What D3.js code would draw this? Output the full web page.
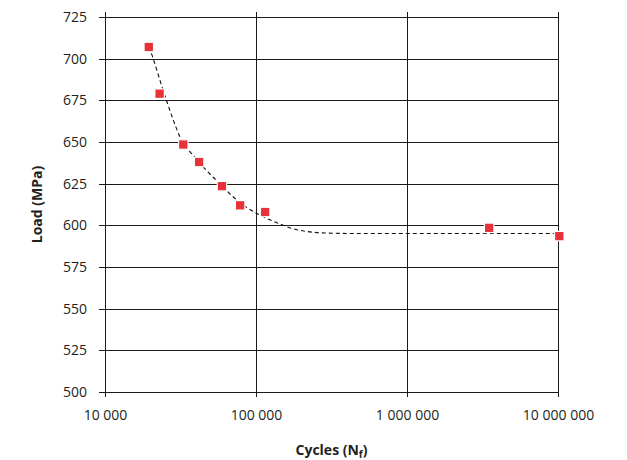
<!DOCTYPE html>
<html>
<head>
<meta charset="utf-8">
<script src="https://cdn.jsdelivr.net/npm/d3@7"></script>
<style>
  html, body { margin: 0; padding: 0; background: #fff; }
  svg { display: block; font-family: "Open Sans", "Noto Sans", sans-serif; }
</style>
</head>
<body>
<div id="chart"></div>
<script>
'use strict';

// Test results: cycles to failure vs load
const cycles = [19500, 23000, 33000, 42000, 59500, 78500, 115000, 3500000, 10200000];
const loads  = [707, 679, 648.5, 638, 623.5, 612, 608, 598.5, 593.5];

// Dashed trend curve
const fitCycles = [19560, 20790, 22440, 24220, 26140, 28640, 31390, 34390, 37690, 41930,
                   46660, 52710, 59560, 67270, 76000, 85850, 100000, 120100, 144200, 173200,
                   217600, 286400, 488300, 1930000, 10000000];
const fitLoads  = [707, 700.4, 690.8, 681.2, 672.2, 662, 653, 647, 642.8, 638,
                   633.2, 628.4, 623.6, 618.8, 614.6, 611, 607.4, 603.8, 600.8, 598.1,
                   596.3, 595.4, 595.1, 595.1, 595.1];

const xTicks = [10000, 100000, 1000000, 10000000];
const yTicks = [500, 525, 550, 575, 600, 625, 650, 675, 700, 725];

const W = 627, H = 460;
const M = { left: 105, right: 558, top: 17, bottom: 392 };

const x = d3.scaleLog().domain([10000, 10000000]).range([M.left, M.right]);
const y = d3.scaleLinear().domain([500, 725]).range([M.bottom, M.top]);

const fmt = d3.formatLocale({ decimal: '.', thousands: ' ', grouping: [3], currency: ['', ''] }).format(',d');

const svg = d3.select('#chart').append('svg')
    .attr('width', W).attr('height', H).attr('viewBox', `0 0 ${W} ${H}`);

// grid
const grid = svg.append('g').attr('stroke', '#1a1a1a').attr('stroke-width', 1).attr('shape-rendering', 'crispEdges');
grid.selectAll('.h').data(yTicks).join('line')
    .attr('x1', M.left - 6).attr('x2', M.right)
    .attr('y1', d => Math.round(y(d)) + 0.5).attr('y2', d => Math.round(y(d)) + 0.5);
grid.selectAll('.v').data(xTicks).join('line')
    .attr('y1', M.top - 5).attr('y2', M.bottom + 5)
    .attr('x1', d => Math.round(x(d)) + 0.5).attr('x2', d => Math.round(x(d)) + 0.5);

// axes (labels only, grid draws the ticks)
const yAxis = svg.append('g').attr('transform', `translate(${M.left},0)`)
    .call(d3.axisLeft(y).tickValues(yTicks).tickSize(0).tickPadding(18));
const xAxis = svg.append('g').attr('transform', `translate(0,${M.bottom})`)
    .call(d3.axisBottom(x).tickValues(xTicks).tickFormat(fmt).tickSize(0).tickPadding(18));
[yAxis, xAxis].forEach(a => {
    a.select('.domain').remove();
    a.selectAll('text').attr('font-size', 14).attr('fill', '#231f20')
        .style('font-family', '"Open Sans", sans-serif');
});

// trend curve
const line = d3.line().x(d => x(d[0])).y(d => y(d[1])).curve(d3.curveMonotoneX);
svg.append('path')
    .datum(fitCycles.map((c, i) => [c, fitLoads[i]]))
    .attr('d', line)
    .attr('fill', 'none').attr('stroke', '#111').attr('stroke-width', 1.1)
    .attr('stroke-dasharray', '4,3');

// markers
const s = 9.5;
svg.selectAll('.pt').data(cycles.map((c, i) => [c, loads[i]])).join('rect')
    .attr('x', d => x(d[0]) - s / 2).attr('y', d => y(d[1]) - s / 2)
    .attr('width', s).attr('height', s)
    .attr('fill', '#e8323a').attr('stroke', '#fff').attr('stroke-width', 1.2);

// axis titles
svg.append('text')
    .attr('transform', `translate(42,${(M.top + M.bottom) / 2}) rotate(-90)`)
    .attr('text-anchor', 'middle').attr('font-size', 14).attr('font-weight', 'bold').attr('fill', '#231f20')
    .text('Load (MPa)');

const xt = svg.append('text')
    .attr('x', (M.left + M.right) / 2).attr('y', 455)
    .attr('text-anchor', 'middle').attr('font-size', 14).attr('font-weight', 'bold').attr('fill', '#231f20');
xt.append('tspan').text('Cycles (N');
xt.append('tspan').attr('font-size', 10).attr('dy', 3).text('f');
xt.append('tspan').attr('dy', -3).text(')');
</script>
</body>
</html>
